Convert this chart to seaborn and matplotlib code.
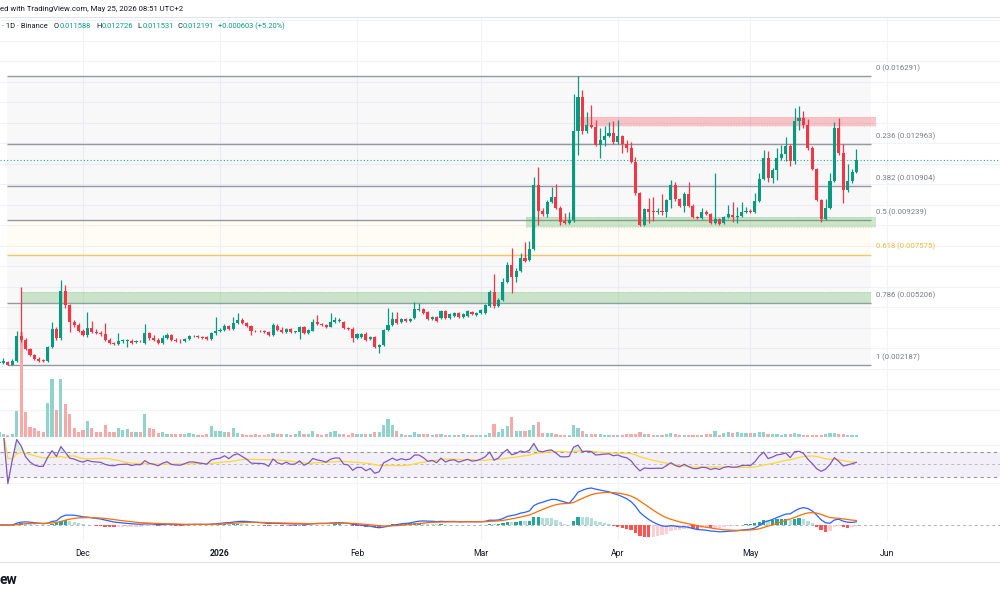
import numpy as np
import pandas as pd
import matplotlib
matplotlib.use("Agg")
import matplotlib.pyplot as plt
import matplotlib.dates as mdates
from matplotlib.lines import Line2D
import seaborn as sns

# ---------------- data (prices in millionths of USDT) ----------------
start_date = "2025-11-12"

open_u = [
    # Nov 12-30
    2286, 2286, 2334, 2188, 2383, 3603, 3408, 2969, 2676, 2481,
    2432, 2383, 3066, 3945, 3506, 5799, 5116, 4286, 4140,
    # Dec
    3847, 3652, 3994, 3798, 3750, 3701, 3408, 3262, 3213, 3335,
    3359, 3359, 3310, 3359, 3262, 3750, 3506, 3408, 3262, 3506,
    3652, 3408, 3359, 3359, 3457, 3579, 3603, 3554, 3554, 3457,
    3750,
    # Jan
    3847, 3896, 4091, 3945, 4238, 4384, 4238, 4091, 3847, 3847,
    3847, 3798, 3652, 4091, 3896, 3798, 3945, 3798, 3798, 4042,
    3750, 3847, 4286, 4189, 4140, 4042, 4286, 4335, 4286, 3994,
    3945,
    # Feb
    3506, 3554, 3701, 3457, 3554, 3066, 3164, 3896, 4140, 4433,
    4286, 4433, 4335, 4482, 4848, 4921, 4774, 4433, 4530, 4482,
    4823, 4482, 4579, 4726, 4530, 4579, 4774, 4628,
    # Mar
    4726, 4726, 5067, 5750, 5067, 5360, 6238, 7068, 6482, 6775,
    7410, 7312, 7849, 10972, 9703, 9557, 10142, 10386, 9850, 9215,
    9118, 9264, 13607, 15266, 13607, 13900, 13802, 12924, 13168, 13363,
    13510,
    # Apr
    13070, 13363, 12973, 12778, 12094, 10582, 9020, 9801, 9703, 9654,
    9703, 9654, 10240, 10972, 10289, 9947, 10533, 9947, 9410, 9362,
    9654, 9557, 9118, 9313, 9118, 9410, 9508, 9410, 9459, 9654,
    # May 1-25
    9703, 9654, 10191, 11265, 12290, 11314, 11704, 12290, 12485, 12875,
    12143, 14095, 14242, 13900, 12778, 11753, 10240, 9313, 9850, 11167,
    13754, 12534, 10728, 11167, 11588,
]

high_u = [
    2432, 2530, 2383, 2481, 3847, 5994, 3506, 3018, 2725, 2578,
    2481, 3115, 4286, 4042, 6336, 6092, 5165, 4384, 4238,
    3945, 4774, 4335, 3945, 3847, 4238, 3506, 3310, 3750, 3457,
    3457, 3457, 3408, 3408, 4189, 3798, 3652, 3506, 3652, 3750,
    3701, 3506, 3457, 3506, 3652, 3652, 3652, 3603, 3603, 3798,
    4530,
    3994, 4189, 4140, 4530, 4726, 4482, 4286, 4140, 3896, 3896,
    3896, 3847, 4238, 4189, 4042, 3994, 3994, 3847, 4091, 4091,
    3945, 4433, 4628, 4238, 4189, 4726, 4530, 4482, 4335, 4042,
    4042,
    3750, 3750, 3798, 3603, 3603, 3213, 3945, 4970, 4774, 4774,
    4482, 4482, 4482, 5262, 5214, 4970, 4823, 4579, 4579, 4872,
    4872, 4726, 4774, 4774, 4726, 4872, 4823, 4774,
    4921, 5165, 5848, 6629, 5458, 6434, 7214, 7898, 6922, 7654,
    8190, 8239, 11362, 11850, 9850, 10240, 10874, 11021, 9947, 9606,
    9654, 15413, 16291, 15608, 14534, 14876, 14144, 13754, 13851, 14046,
    14095,
    14144, 13412, 13168, 13070, 12338, 10630, 9850, 10338, 10386, 9850,
    10533, 10289, 11216, 11118, 10338, 10630, 11118, 10045, 9459, 9850,
    9752, 9606, 11558, 9362, 9459, 9996, 10142, 9898, 10142, 9898,
    9801, 10582, 11558, 12680, 12631, 11802, 12778, 12924, 13314, 12973,
    14730, 14827, 14583, 14193, 12875, 11802, 10289, 10289, 11558, 14046,
    14242, 12973, 11997, 11753, 12726,
]

low_u = [
    2237, 2237, 2187, 2200, 2334, 3310, 2920, 2627, 2432, 2334,
    2334, 2334, 3018, 3408, 3408, 4970, 3798, 4042, 3798,
    3603, 3554, 3750, 3701, 3603, 3359, 3213, 3164, 3164, 3262,
    3066, 3213, 3262, 3310, 3213, 3408, 3359, 3213, 3213, 3457,
    3359, 3310, 3262, 3310, 3408, 3554, 3506, 3457, 3408, 3408,
    3652,
    3798, 3847, 3896, 3896, 4189, 4189, 4042, 3652, 3798, 3798,
    3750, 3603, 3603, 3847, 3750, 3750, 3750, 3750, 3457, 3701,
    3701, 3847, 4140, 4091, 3994, 4042, 4238, 4286, 3945, 3896,
    3310,
    3457, 3506, 3359, 3408, 3018, 2774, 3115, 3847, 4091, 4189,
    4238, 4286, 4286, 4433, 4823, 4677, 4384, 4384, 4286, 4433,
    4433, 4433, 4530, 4482, 4482, 4530, 4628, 4579,
    4677, 4677, 5018, 4970, 5018, 5311, 6190, 5702, 6238, 6726,
    7214, 7263, 7800, 9020, 9459, 9410, 10094, 9801, 9020, 9069,
    9069, 9166, 12436, 13461, 13510, 13754, 12875, 12290, 12875, 13314,
    12973,
    12973, 12534, 12582, 12046, 10484, 8971, 8971, 9118, 9215, 9557,
    9508, 9410, 9850, 10191, 9898, 9654, 9898, 9362, 9313, 9313,
    9508, 9069, 9069, 9020, 9069, 9362, 9166, 9118, 9410, 9606,
    9606, 9606, 10142, 11216, 11118, 11070, 11216, 12192, 12143, 11899,
    11997, 13656, 13754, 12680, 11704, 10191, 9166, 9264, 9801, 11118,
    12436, 10094, 10630, 11070, 11531,
]

close_u = [
    2334, 2383, 2188, 2383, 3603, 3408, 2969, 2676, 2481, 2383,
    2383, 3066, 3945, 3506, 5799, 5116, 4286, 4140, 3847,
    3652, 3994, 3798, 3750, 3701, 3408, 3262, 3213, 3359, 3384,
    3408, 3262, 3359, 3335, 3750, 3506, 3408, 3262, 3506, 3652,
    3408, 3359, 3335, 3457, 3603, 3603, 3554, 3506, 3457, 3750,
    3847,
    3896, 4091, 3945, 4238, 4384, 4238, 4091, 3847, 3823, 3823,
    3798, 3652, 4140, 3896, 3798, 3945, 3798, 3823, 4042, 3750,
    3896, 4286, 4189, 4140, 4042, 4286, 4384, 4384, 3994, 3945,
    3506,
    3701, 3701, 3408, 3554, 3066, 3164, 3896, 4140, 4433, 4238,
    4433, 4335, 4433, 4921, 4921, 4726, 4433, 4530, 4335, 4823,
    4482, 4677, 4726, 4530, 4677, 4823, 4677, 4726,
    4872, 5116, 5750, 5067, 5360, 6238, 7068, 6482, 6775, 7410,
    7263, 7849, 10972, 9703, 9557, 10142, 10386, 9850, 9166, 9118,
    9264, 13607, 15266, 13607, 13900, 13802, 12924, 13168, 13363, 13510,
    13070,
    13363, 12973, 12778, 12094, 10582, 9020, 9801, 9654, 9654, 9703,
    9654, 10240, 10972, 10289, 9947, 10533, 9947, 9410, 9362, 9654,
    9557, 9118, 9313, 9069, 9410, 9557, 9410, 9459, 9654, 9703,
    9654, 10191, 11265, 12290, 11314, 11704, 12290, 12485, 12875, 12143,
    14095, 14242, 13900, 12778, 11753, 10240, 9313, 9850, 11167, 13754,
    12534, 10728, 11167, 11606, 12191,
]

volume_m = [
    5, 3, 2, 3, 26, 105, 25, 10, 9, 6,
    5, 34, 58, 27, 58, 33, 23, 9, 5,
    7, 16, 9, 5, 5, 12, 5, 5, 9, 7,
    8, 5, 5, 5, 23, 9, 8, 4, 5, 3,
    3, 3, 3, 3, 4, 3, 2, 2, 3, 11,
    6,
    6, 5, 5, 9, 4, 3, 2, 2, 3, 2,
    2, 3, 4, 3, 3, 3, 2, 3, 6, 3,
    3, 6, 3, 2, 3, 5, 6, 3, 3, 2,
    4,
    3, 3, 3, 3, 5, 5, 12, 18, 12, 6,
    3, 2, 2, 5, 3, 3, 3, 2, 3, 3,
    2, 2, 2, 2, 3, 2, 2, 2,
    2, 2, 4, 13, 5, 8, 11, 20, 6, 6,
    6, 7, 12, 15, 4, 4, 4, 3, 2, 2,
    2, 12, 9, 6, 3, 3, 3, 3, 2, 2,
    2,
    2, 2, 3, 3, 3, 5, 3, 3, 2, 2,
    2, 3, 4, 3, 2, 2, 2, 2, 2, 2,
    3, 3, 6, 2, 4, 5, 4, 5, 4, 4,
    4, 4, 5, 5, 3, 3, 3, 2, 3, 3,
    4, 3, 2, 2, 2, 2, 2, 3, 4, 4,
    3, 3, 2, 2, 2,
]

fib_high = 0.0162914
fib_low = 0.0021874
fib_ratios = [0.0, 0.236, 0.382, 0.5, 0.618, 0.786, 1.0]
fib_start = "2025-11-13 21:00"
fib_end = "2026-05-28 07:00"
fib_label_at = "2026-05-29 10:00"

zone_lo = [0.01387, 0.00894, 0.005206]
zone_hi = [0.01428, 0.00943, 0.00574]
zone_start = ["2026-03-23 10:00", "2026-03-11 04:00", "2025-11-17 03:00"]
zone_end = ["2026-05-29 10:00", "2026-05-29 10:00", "2026-05-28 07:00"]
zone_kind = ["red", "green", "green"]

month_ticks = ["2025-12-01", "2026-01-01", "2026-02-01", "2026-03-01",
               "2026-04-01", "2026-05-01", "2026-06-01"]
month_labels = ["Dec", "2026", "Feb", "Mar", "Apr", "May", "Jun"]

header_line1 = "ed with TradingView.com, May 25, 2026 08:51 UTC+2"
symbol_text = "\u00b7 1D \u00b7 Binance"
last_ohlc = [0.011588, 0.012726, 0.011531, 0.012191]
change_text = "+0.000603 (+5.20%)"

# ---------------- style ----------------
sns.set_theme(style="white")
plt.rcParams["font.family"] = ["Roboto", "DejaVu Sans"]

UP, DOWN = "#089981", "#f23645"
TXT = "#131722"
GRID = "#f0f3fa"
W, H = 1000, 600

# ---------------- derived series ----------------
dates = pd.date_range(start_date, periods=len(close_u), freq="D")
x = mdates.date2num(dates)
o = np.array(open_u, float) * 1e-6
c = np.array(close_u, float) * 1e-6
h = np.maximum.reduce([np.array(high_u, float) * 1e-6, o, c])
l = np.minimum.reduce([np.array(low_u, float) * 1e-6, o, c])
vol = np.array(volume_m, float)
up = c >= o

cs = pd.Series(c)
delta = cs.diff().fillna(0.0)
gain = delta.clip(lower=0).ewm(alpha=1 / 14, adjust=True).mean()
loss = (-delta.clip(upper=0)).ewm(alpha=1 / 14, adjust=True).mean()
rsi = 100 - 100 / (1 + gain / loss)
rsi_ma = rsi.rolling(14, min_periods=1).mean()
macd = cs.ewm(span=12, adjust=False).mean() - cs.ewm(span=26, adjust=False).mean()
signal = macd.ewm(span=9, adjust=False).mean()
hist = macd - signal

dec1 = mdates.date2num(pd.Timestamp("2025-12-01"))
xlim = (dec1 - 18.78, dec1 + 207.47)
month_x = mdates.date2num(pd.to_datetime(month_ticks))

# ---------------- figure ----------------
fig = plt.figure(figsize=(W / 100, H / 100), dpi=100)
fig.patch.set_facecolor("white")


def px_axes(top, bottom):
    ax = fig.add_axes([0, 1 - bottom / H, 1, (bottom - top) / H])
    ax.set_facecolor("none")
    for s in ax.spines.values():
        s.set_visible(False)
    ax.set_xlim(*xlim)
    ax.set_yticks([])
    ax.set_xticks([])
    ax.grid(False)
    return ax


price_ylim = (-0.00138, 0.01917)

# background layer: grid, fib, zones
ax_bg = px_axes(17, 438)
ax_bg.set_ylim(*price_ylim)
for p in np.arange(0.0, 0.0195, 0.001):
    ax_bg.axhline(p, color=GRID, lw=0.8, zorder=0)
for mx in month_x:
    ax_bg.axvline(mx, color=GRID, lw=0.8, zorder=0)

fs = mdates.date2num(pd.Timestamp(fib_start))
fe = mdates.date2num(pd.Timestamp(fib_end))
fl = mdates.date2num(pd.Timestamp(fib_label_at))
levels = [fib_high - r * (fib_high - fib_low) for r in fib_ratios]
lvl_colors = ["#787b86" if r != 0.618 else "#ffb74d" for r in fib_ratios]
for i in range(len(levels) - 1):
    ax_bg.fill_between([fs, fe], levels[i], levels[i + 1],
                       color=lvl_colors[i + 1], alpha=0.05, lw=0, zorder=1)
for r, lv, col in zip(fib_ratios, levels, lvl_colors):
    ax_bg.hlines(lv, fs, fe, color=("#9598a1" if r != 0.618 else "#f9c46b"),
                 lw=1.0, zorder=2)
    tcol = "#787b86" if r != 0.618 else "#f2b53a"
    ax_bg.annotate(f"{r:g} ({lv:.6f})", xy=(fl, lv), xytext=(0, 5.8),
                   textcoords="offset points", va="center", ha="left",
                   fontsize=5.6, color=tcol, annotation_clip=False)

for lo, hi, s, e, kind in zip(zone_lo, zone_hi, zone_start, zone_end, zone_kind):
    xs = mdates.date2num(pd.Timestamp(s))
    xe = mdates.date2num(pd.Timestamp(e))
    fc = "#4caf50" if kind == "green" else "#f23645"
    ec = "#81c784" if kind == "green" else "#f5a3a9"
    ax_bg.fill_between([xs, xe], lo, hi, color=fc, alpha=0.28, lw=0, zorder=3)
    ax_bg.hlines([lo, hi], xs, xe, color=ec, lw=0.5, linestyles=(0, (2, 2)),
                 alpha=0.6, zorder=3)

ax_bg.axhline(last_ohlc[3], color="#26a69a", lw=0.8, ls=(0, (1, 2)), zorder=4)

# volume layer
ax_vol = px_axes(17, 438)
vmax = vol.max()
ax_vol.set_ylim(-vmax / 105, vmax * 4.0)
ax_vol.bar(x, vol, width=0.72, color=np.where(up, "#92d2cc", "#f7a9a7"),
           linewidth=0, zorder=1)

# candles layer
ax_c = px_axes(17, 438)
ax_c.set_ylim(*price_ylim)
cols = np.where(up, UP, DOWN)
ax_c.vlines(x, l, h, colors=cols, lw=0.9, zorder=2)
body_lo = np.minimum(o, c)
body_h = np.maximum(np.abs(c - o), 0.00003)
ax_c.bar(x, body_h, bottom=body_lo, width=0.7, color=cols, linewidth=0, zorder=3)

# RSI pane
ax_rsi = px_axes(438, 487)
ax_rsi.set_ylim(13.5, 91.9)
for mx in month_x:
    ax_rsi.axvline(mx, color=GRID, lw=0.8, zorder=0)
for g in (80, 20):
    ax_rsi.axhline(g, color=GRID, lw=0.8, zorder=0)
ax_rsi.axhspan(30, 70, color="#7e57c2", alpha=0.09, lw=0, zorder=1)
ax_rsi.axhline(70, color="#787b86", lw=0.8, ls=(0, (3, 3)), alpha=0.8, zorder=2)
ax_rsi.axhline(50, color="#787b86", lw=0.7, ls=(0, (3, 3)), alpha=0.45, zorder=2)
ax_rsi.axhline(30, color="#787b86", lw=0.8, ls=(0, (3, 3)), alpha=0.8, zorder=2)
rv = rsi.to_numpy()
ax_rsi.fill_between(x, 70, rv, where=rv > 70, interpolate=True,
                    color="#4caf50", alpha=0.2, lw=0, zorder=2)
ax_rsi.fill_between(x, 30, rv, where=rv < 30, interpolate=True,
                    color="#f23645", alpha=0.2, lw=0, zorder=2)
sns.lineplot(x=x, y=rsi_ma.to_numpy(), ax=ax_rsi, color="#fdd835", lw=0.9, zorder=3)
sns.lineplot(x=x, y=rv, ax=ax_rsi, color="#7e57c2", lw=0.9, zorder=4)

# MACD pane
ax_m = px_axes(487, 541)
peak = macd.max()
top = peak * 38 / 37
ax_m.set_ylim(-top * 16 / 38, top)
for mx in month_x:
    ax_m.axvline(mx, color=GRID, lw=0.8, zorder=0)
ax_m.axhline(0, color="#787b86", lw=0.7, ls=(0, (3, 3)), alpha=0.6, zorder=1)
hv = hist.to_numpy()
prev = np.concatenate([[0.0], hv[:-1]])
hcol = np.where(hv >= 0, np.where(hv >= prev, "#26a69a", "#b2dfdb"),
                np.where(hv < prev, "#ff5252", "#ffcdd2"))
ax_m.bar(x, hv, width=0.75, color=hcol, linewidth=0, zorder=2)
sns.lineplot(x=x, y=macd.to_numpy(), ax=ax_m, color="#2962ff", lw=0.9, zorder=3)
sns.lineplot(x=x, y=signal.to_numpy(), ax=ax_m, color="#ff6d00", lw=0.9, zorder=3)
ax_m.set_xlim(*xlim)
ax_m.set_xticks(month_x)
ax_m.set_xticklabels(month_labels)
ax_m.tick_params(axis="x", length=0, pad=6, labelsize=6.2, colors=TXT)
for lbl in ax_m.get_xticklabels():
    if lbl.get_text() == "2026":
        lbl.set_fontweight("bold")
ax_m.set_xlabel("")
ax_m.set_ylabel("")
ax_rsi.set_xlabel("")
ax_rsi.set_ylabel("")

# frame lines
for yy in (17, 562):
    fig.add_artist(Line2D([0, 1], [1 - yy / H] * 2, color="#e0e3eb", lw=0.8))

# header
fig.text(0.0, 1 - 9.5 / H, header_line1, fontsize=5.6, color=TXT, va="center", ha="left")
yh = 1 - 26.7 / H
pieces = [(symbol_text, 1.5, TXT),
          ("O", 54, TXT), (f"{last_ohlc[0]:.6f}", 59.5, UP),
          ("H", 96.5, TXT), (f"{last_ohlc[1]:.6f}", 101.5, UP),
          ("L", 137.5, TXT), (f"{last_ohlc[2]:.6f}", 142.5, UP),
          ("C", 177.5, TXT), (f"{last_ohlc[3]:.6f}", 182.5, UP),
          (change_text, 218.5, UP)]
for t, px, col in pieces:
    fig.text(px / W, yh, t, fontsize=5.4, color=col, va="center", ha="left")

fig.text(-0.001, 1 - 580 / H, "ew", fontsize=10, fontweight="bold", color=TXT,
         va="center", ha="left")

fig.savefig("out.png", dpi=100, facecolor="white")
